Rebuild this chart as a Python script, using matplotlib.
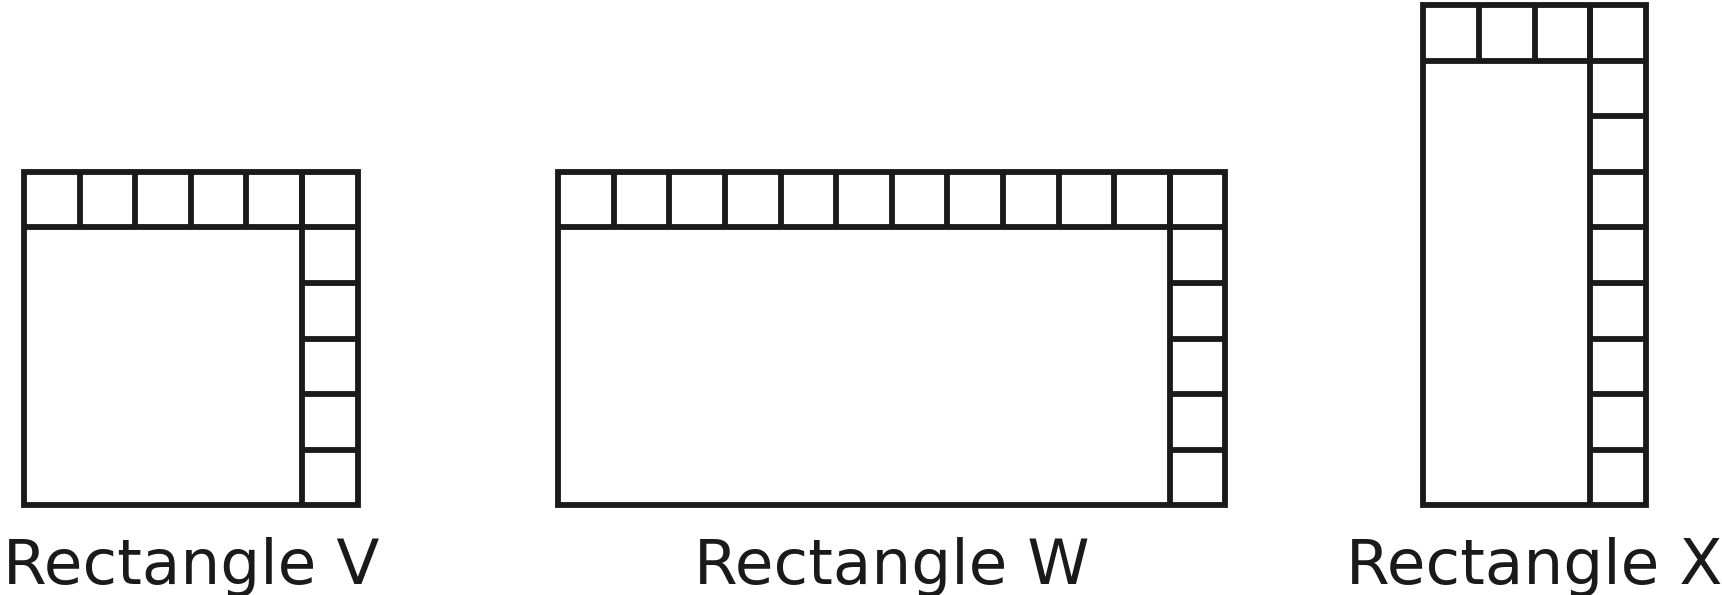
import matplotlib.pyplot as plt
from matplotlib.patches import Rectangle

# grid size of each rectangle, in unit squares
labels = ["Rectangle V", "Rectangle W", "Rectangle X"]
cols = [6, 12, 4]
rows = [6, 6, 9]

# layout (in unit-square lengths)
cell_px = 55.6
left_pos = [0.43, 10.04, 25.6]
base_y = 1.61
ink = "#1a1a1a"
lw = 4.2

fig = plt.figure(figsize=(17.22, 5.95), dpi=100)
ax = fig.add_axes([0, 0, 1, 1])
ax.set_xlim(0, 1722 / cell_px)
ax.set_ylim(0, 595 / cell_px)
ax.axis("off")

for label, nc, nr, x0 in zip(labels, cols, rows, left_pos):
    y0 = base_y
    top = y0 + nr
    # outer border
    ax.add_patch(Rectangle((x0, y0), nc, nr, fill=False, edgecolor=ink,
                           linewidth=lw, joinstyle="miter"))
    # line under the top row
    ax.plot([x0, x0 + nc], [top - 1, top - 1], color=ink, lw=lw, solid_capstyle="butt")
    # dividers in the top row
    for i in range(1, nc):
        ax.plot([x0 + i, x0 + i], [top - 1, top], color=ink, lw=lw, solid_capstyle="butt")
    # left edge of the right column
    ax.plot([x0 + nc - 1, x0 + nc - 1], [y0, top], color=ink, lw=lw, solid_capstyle="butt")
    # dividers in the right column
    for j in range(1, nr - 1):
        ax.plot([x0 + nc - 1, x0 + nc], [y0 + j, y0 + j], color=ink, lw=lw,
                solid_capstyle="butt")
    ax.text(x0 + nc / 2, 0.2, label, ha="center", va="baseline",
            fontsize=45.3, color=ink, family="DejaVu Sans")

fig.savefig("out.png", dpi=100)
